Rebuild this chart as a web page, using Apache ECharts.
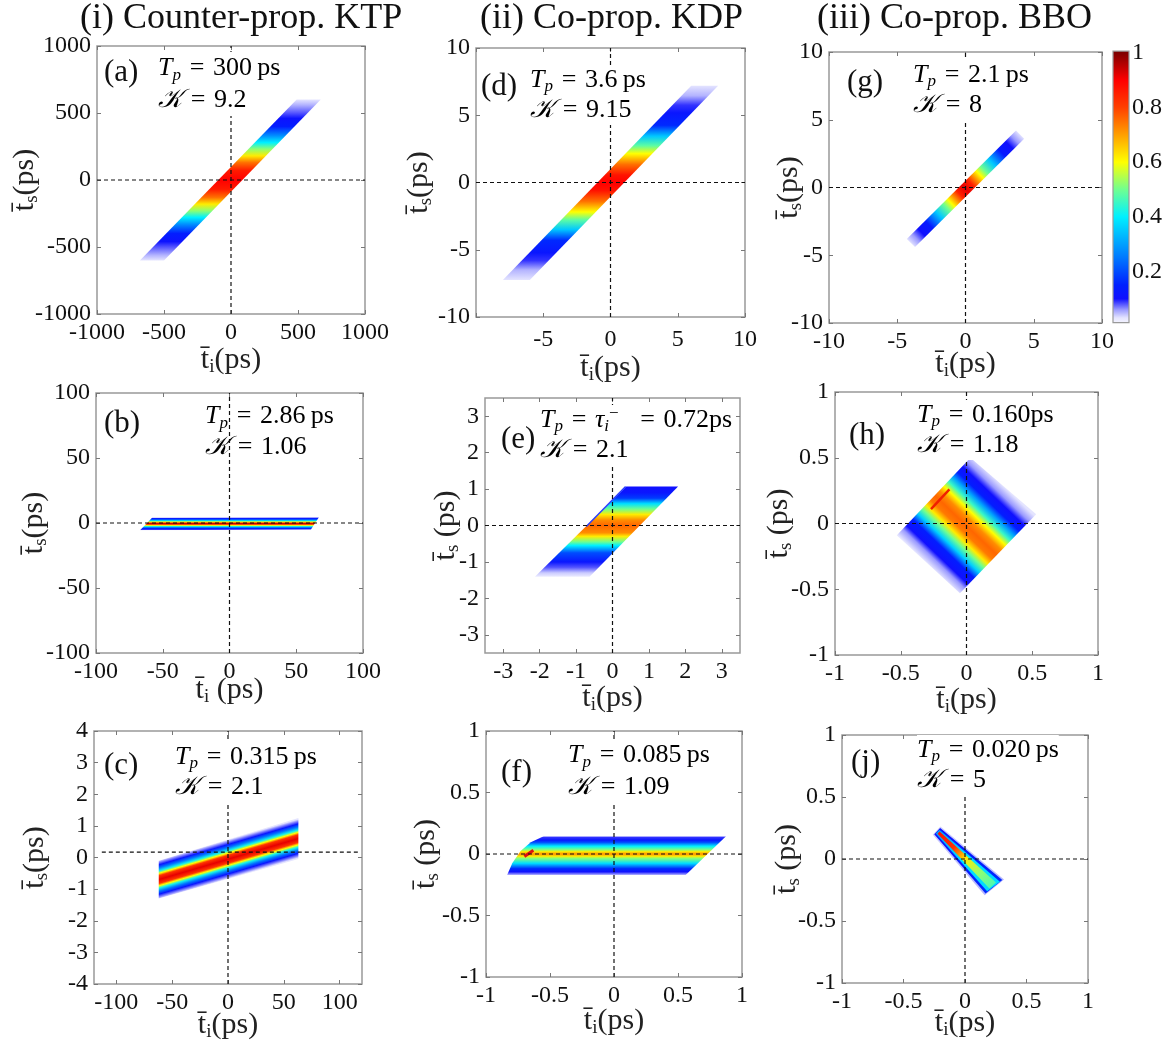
<!DOCTYPE html>
<html>
<head>
<meta charset="utf-8">
<script src="https://cdn.jsdelivr.net/npm/echarts@6/dist/echarts.min.js"></script>
<style>html,body{margin:0;background:#fff}#chart{width:1171px;height:1040px}</style>
</head>
<body>
<div id="chart"></div>
<script>
// colour bar: value -> colour (jet with white foot)
const cbStops = [[0,'#ffffff'],[0.03,'#e4e4ff'],[0.06,'#9a9aff'],[0.1,'#1010ff'],[0.15,'#0020ff'],[0.25,'#0078ff'],[0.4,'#00f0ff'],[0.5,'#70ff90'],[0.6,'#ffff00'],[0.7,'#ffa000'],[0.8,'#ff4000'],[0.9,'#ff0000'],[1,'#800000']];
const cbTicks = [0.2, 0.4, 0.6, 0.8, 1];

// tick values
const aTicks = [-1000, -500, 0, 500, 1000];
const bTicks = [-100, -50, 0, 50, 100];
const cXTicks = [-100, -50, 0, 50, 100];
const cYTicks = [-4, -3, -2, -1, 0, 1, 2, 3, 4];
const dTicks = [-10, -5, 0, 5, 10];
const dXLabels = [-5, 0, 5, 10];
const eTicks = [-3, -2, -1, 0, 1, 2, 3];
const gTicks = [-10, -5, 0, 5, 10];
const unitTicks = [-1, -0.5, 0, 0.5, 1];

// band outlines (t_i, t_s), gradient ends and intensity profiles [fraction, |amplitude|]
const aBand = [[-680, -600], [-500, -600], [670, 600], [490, 600]];
const aGrad = [[0, -600], [0, 600]];
const aProfile = [[0,0.03],[0.033,0.05],[0.083,0.08],[0.117,0.11],[0.167,0.14],[0.225,0.28],[0.267,0.4],[0.308,0.52],[0.35,0.62],[0.392,0.75],[0.442,0.86],[0.5,0.9],[0.558,0.86],[0.608,0.75],[0.65,0.62],[0.692,0.52],[0.733,0.4],[0.775,0.28],[0.833,0.14],[0.883,0.11],[0.917,0.08],[0.967,0.05],[1,0.03]];

const bBand = [[-67, -5.5], [61, -5], [67, 4.5], [-58, 4]];
const bGrad = [[0, -5.5], [0, 4.5]];
const bProfile = [[0,0.03],[0.06,0.1],[0.15,0.16],[0.27,0.38],[0.37,0.6],[0.45,0.85],[0.5,0.95],[0.55,0.85],[0.63,0.6],[0.73,0.38],[0.85,0.16],[0.94,0.1],[1,0.03]];

const cBand = [[-62, -1.3], [63, -0.05], [63, 1.25], [-62, -0.1]];
const cGrad = [[4.7, -0.62], [-4.7, 0.51]];
const cProfile = [[0,0.03],[0.06,0.07],[0.12,0.12],[0.2,0.25],[0.28,0.42],[0.34,0.6],[0.4,0.82],[0.5,0.92],[0.6,0.82],[0.66,0.6],[0.72,0.42],[0.8,0.25],[0.88,0.12],[0.94,0.07],[1,0.03]];
const cHLine = [[-113, 0.17], [117, 0.17]];

const dBand = [[-8, -7.25], [-6, -7.25], [8, 7.2], [6, 7.2]];
const dGrad = [[0, -7.25], [0, 7.2]];
const dProfile = [[0,0.03],[0.052,0.05],[0.1,0.09],[0.14,0.12],[0.204,0.16],[0.26,0.35],[0.308,0.48],[0.35,0.6],[0.405,0.75],[0.46,0.87],[0.5,0.9],[0.54,0.87],[0.595,0.75],[0.65,0.6],[0.692,0.48],[0.74,0.35],[0.796,0.16],[0.86,0.12],[0.9,0.09],[0.948,0.05],[1,0.03]];

const eBand = [[-2.13, -1.41], [-0.63, -1.41], [1.8, 1.07], [0.38, 1.07]];
const eGrad = [[0, -1.41], [0, 1.07]];
const eProfile = [[0,0.02],[0.044,0.04],[0.105,0.08],[0.165,0.12],[0.266,0.2],[0.347,0.4],[0.387,0.5],[0.448,0.62],[0.488,0.72],[0.569,0.76],[0.629,0.72],[0.69,0.62],[0.75,0.5],[0.81,0.38],[0.871,0.18],[0.931,0.12],[1,0.1]];
const eEdge = [[-0.72, -0.03], [0.36, 1.07]];

const fBand = [[-0.835, -0.17], [0.56, -0.17], [0.875, 0.145], [-0.55, 0.145], [-0.65, 0.095], [-0.73, 0.025], [-0.795, -0.075]];
const fGrad = [[0, -0.17], [0, 0.145]];
const fProfile = [[0,0.05],[0.08,0.1],[0.16,0.16],[0.3,0.38],[0.43,0.52],[0.48,0.62],[0.54,0.72],[0.6,0.62],[0.66,0.5],[0.74,0.4],[0.84,0.2],[0.9,0.12],[0.97,0.09],[1,0.05]];
const fRidge = [[-0.7, -0.02], [-0.63, 0.03]];

const gBand = [[-4.3, -3.8], [-3.7, -4.4], [4.3, 3.6], [3.7, 4.2]];
const gGrad = [[-4.05, -4.1], [4.05, 3.9]];
const gProfile = [[0,0.03],[0.05,0.06],[0.1,0.1],[0.17,0.13],[0.26,0.35],[0.33,0.5],[0.37,0.6],[0.41,0.72],[0.45,0.85],[0.5,0.92],[0.55,0.85],[0.59,0.72],[0.63,0.6],[0.67,0.5],[0.74,0.35],[0.83,0.13],[0.9,0.1],[0.95,0.06],[1,0.03]];

const hBand = [[-0.53, -0.09], [-0.05, -0.53], [0.53, 0.07], [0.03, 0.5]];
const hGrad = [[-0.29, -0.31], [0.28, 0.285]];
const hProfile = [[0,0.03],[0.07,0.06],[0.12,0.1],[0.2,0.14],[0.27,0.36],[0.33,0.5],[0.38,0.62],[0.44,0.74],[0.5,0.76],[0.56,0.72],[0.62,0.6],[0.68,0.45],[0.74,0.3],[0.8,0.14],[0.87,0.1],[0.93,0.06],[1,0.03]];
const hRidge = [[-0.27, 0.11], [-0.13, 0.26]];

const jGrad = [[-0.23, 0.23], [0.24, -0.23]];
const jFringe = [[-0.262, 0.196], [0.16, -0.292], [0.317, -0.165], [-0.2, 0.262]];
const jFringeProfile = [[0,0.04],[1,0.05]];
const jOuter = [[-0.25, 0.199], [0.167, -0.278], [0.303, -0.17], [-0.202, 0.249]];
const jOuterProfile = [[0,0.11],[0.5,0.13],[1,0.16]];
const jMid = [[-0.238, 0.206], [0.18, -0.26], [0.284, -0.184], [-0.208, 0.236]];
const jMidProfile = [[0,0.3],[0.5,0.38],[1,0.37]];
const jCore = [[-0.223, 0.204], [0.198, -0.238], [0.252, -0.19], [-0.207, 0.222]];
const jCoreProfile = [[0,0.88],[0.3,0.82],[0.5,0.62],[0.75,0.52],[1,0.46]];

const serif = 'Liberation Serif, serif';
const EQ = '\u2004=\u2004';

function hex2rgb(h) { return [1, 3, 5].map(i => parseInt(h.substr(i, 2), 16)) }
function cmap(v) {
  for (let i = 1; i < cbStops.length; i++) {
    if (v <= cbStops[i][0]) {
      const a = hex2rgb(cbStops[i - 1][1]), b = hex2rgb(cbStops[i][1])
      const t = (v - cbStops[i - 1][0]) / (cbStops[i][0] - cbStops[i - 1][0])
      return 'rgb(' + a.map((c, k) => Math.round(c + (b[k] - c) * t)).join(',') + ')'
    }
  }
  return cbStops[cbStops.length - 1][1]
}

const tiName = '{t|t̄}{s|i}{t|(ps)}'
const tiNameSp = '{t|t̄}{s|i}{t| (ps)}'
const tsName = '{t|t̄}{s|s}{t|(ps)}'
const tsNameSp = '{t|t̄}{s|s}{t| (ps)}'

const panels = [
  { box: [97, 46, 268, 268], xr: [-1000, 1000], yr: [-1000, 1000], xt: aTicks, yt: aTicks, xl: aTicks, yl: aTicks, xn: tiName, yn: tsName, xg: 29, yg: 55,
    shapes: [[aBand, aGrad, aProfile]], extra: [],
    lab: '(a)', lx: 104, ly: 75, tx: 158, ty: 52, lh: 32, tp: '300\u2009ps', kv: '9.2', bg: true },
  { box: [96, 393, 267, 260], xr: [-100, 100], yr: [-100, 100], xt: bTicks, yt: bTicks, xl: bTicks, yl: bTicks, xn: tiNameSp, yn: tsName, xg: 20, yg: 45,
    shapes: [[bBand, bGrad, bProfile]], extra: [],
    lab: '(b)', lx: 104, ly: 426, tx: 205, ty: 401, lh: 31, tp: '2.86\u2009ps', kv: '1.06', bg: false },
  { box: [94, 731, 268, 253], xr: [-120, 120], yr: [-4, 4], xt: cXTicks, yt: cYTicks, xl: cXTicks, yl: cYTicks, xn: tiName, yn: tsName, xg: 24, yg: 42,
    shapes: [[cBand, cGrad, cProfile]], extra: [], hline: cHLine,
    lab: '(c)', lx: 104, ly: 768, tx: 175, ty: 742, lh: 30, tp: '0.315\u2009ps', kv: '2.1', bg: true },
  { box: [476, 48, 269, 269], xr: [-10, 10], yr: [-10, 10], xt: dTicks, yt: dTicks, xl: dXLabels, yl: dTicks, xn: tiName, yn: tsName, xg: 34, yg: 40, xm: 11,
    shapes: [[dBand, dGrad, dProfile]], extra: [],
    lab: '(d)', lx: 481, ly: 89, tx: 530, ty: 65, lh: 30, tp: '3.6\u2009ps', kv: '9.15', bg: true },
  { box: [485, 398, 255, 255], xr: [-3.5, 3.5], yr: [-3.5, 3.5], xt: eTicks, yt: eTicks, xl: eTicks, yl: eTicks, xn: tiName, yn: tsNameSp, xg: 28, yg: 22,
    shapes: [[eBand, eGrad, eProfile]], extra: [[eEdge, '#2a3cff', 1.5]],
    lab: '(e)', lx: 501, ly: 442, tx: 540, ty: 405, lh: 30,
    tpRich: '{it|T}{sub|p}{n|' + EQ + '}{it|τ}{sub|i}{sup|−}{n|\u2002' + EQ + '0.72ps}', kv: '2.1', bg: true },
  { box: [486, 731, 256, 246], xr: [-1, 1], yr: [-1, 1], xt: unitTicks, yt: unitTicks, xl: unitTicks, yl: unitTicks, xn: tiName, yn: tsNameSp, xg: 27, yg: 43,
    shapes: [[fBand, fGrad, fProfile]], extra: [[fRidge, '#e01010', 3]],
    lab: '(f)', lx: 501, ly: 775, tx: 568, ty: 739, lh: 32, tp: '0.085\u2009ps', kv: '1.09', bg: true },
  { box: [829, 52, 273, 271], xr: [-10, 10], yr: [-10, 10], xt: gTicks, yt: gTicks, xl: gTicks, yl: gTicks, xn: tiName, yn: tsName, xg: 24, yg: 23,
    shapes: [[gBand, gGrad, gProfile]], extra: [],
    lab: '(g)', lx: 847, ly: 85, tx: 913, ty: 60, lh: 30, tp: '2.1\u2009ps', kv: '8', bg: true },
  { box: [835, 392, 263, 263], xr: [-1, 1], yr: [-1, 1], xt: unitTicks, yt: unitTicks, xl: unitTicks, yl: unitTicks, xn: tiName, yn: tsNameSp, xg: 28, yg: 39,
    shapes: [[hBand, hGrad, hProfile]], extra: [[hRidge, '#f02000', 2.5]],
    lab: '(h)', lx: 849, ly: 438, tx: 917, ty: 400, lh: 30, tp: '0.160ps', kv: '1.18', bg: true },
  { box: [842, 735, 246, 248], xr: [-1, 1], yr: [-1, 1], xt: unitTicks, yt: unitTicks, xl: unitTicks, yl: unitTicks, xn: tiName, yn: tsNameSp, xg: 23, yg: 38,
    shapes: [[jFringe, jGrad, jFringeProfile], [jOuter, jGrad, jOuterProfile], [jMid, jGrad, jMidProfile], [jCore, jGrad, jCoreProfile]], extra: [],
    lab: '(j)', lx: 851, ly: 765, tx: 917, ty: 735, lh: 30, tp: '0.020\u2009ps', kv: '5', bg: true }
]

const nameRich = {
  t: { fontFamily: serif, fontSize: 30, color: '#222', lineHeight: 34 },
  s: { fontFamily: serif, fontSize: 19, color: '#222', lineHeight: 21, verticalAlign: 'bottom' }
}
function annRich (lh) {
  return {
    n: { fontFamily: serif, fontSize: 26, color: '#222', lineHeight: lh },
    it: { fontFamily: serif, fontStyle: 'italic', fontSize: 26, color: '#222', lineHeight: lh },
    sub: { fontFamily: serif, fontStyle: 'italic', fontSize: 17, color: '#222', lineHeight: 19, verticalAlign: 'bottom' },
    sup: { fontFamily: serif, fontSize: 17, color: '#222', lineHeight: 19, verticalAlign: 'top' },
    k: { fontFamily: serif, fontStyle: 'italic', fontSize: 26, color: '#222', lineHeight: lh }
  }
}

const tickStyle = { inside: true, length: 4, lineStyle: { color: '#777', width: 1 } }
const labelStyle = { fontFamily: serif, fontSize: 24, color: '#111', formatter: v => String(v) }
const hideLine = { show: false, onZero: false }

const grid = [], xAxis = [], yAxis = [], series = [], graphic = []

panels.forEach((p, i) => {
  grid.push({ left: p.box[0], top: p.box[1], width: p.box[2], height: p.box[3], show: true, borderColor: '#999', borderWidth: 1.5, backgroundColor: '#fff', outerBoundsMode: 'none' })
  xAxis.push({ gridIndex: i, type: 'value', min: p.xr[0], max: p.xr[1], position: 'bottom',
    axisLine: hideLine, splitLine: { show: false },
    axisTick: Object.assign({ customValues: p.xt }, tickStyle),
    axisLabel: Object.assign({ customValues: p.xl, margin: p.xm || 7 }, labelStyle),
    name: p.xn, nameLocation: 'middle', nameGap: p.xg, nameMoveOverlap: false, nameTextStyle: { rich: nameRich } })
  xAxis.push({ gridIndex: i, type: 'value', min: p.xr[0], max: p.xr[1], position: 'top',
    axisLine: hideLine, splitLine: { show: false }, axisLabel: { show: false },
    axisTick: Object.assign({ customValues: p.xt }, tickStyle) })
  yAxis.push({ gridIndex: i, type: 'value', min: p.yr[0], max: p.yr[1], position: 'left',
    axisLine: hideLine, splitLine: { show: false },
    axisTick: Object.assign({ customValues: p.yt }, tickStyle),
    axisLabel: Object.assign({ customValues: p.yl, margin: 6 }, labelStyle),
    name: p.yn, nameLocation: 'middle', nameGap: p.yg, nameMoveOverlap: false, nameTextStyle: { rich: nameRich } })
  yAxis.push({ gridIndex: i, type: 'value', min: p.yr[0], max: p.yr[1], position: 'right',
    axisLine: hideLine, splitLine: { show: false }, axisLabel: { show: false },
    axisTick: Object.assign({ customValues: p.yt }, tickStyle) })

  const xi = 2 * i
  series.push({
    type: 'custom', xAxisIndex: xi, yAxisIndex: xi, clip: true, silent: true, z: 2,
    data: p.shapes.map((s, k) => [0, 0, k]),
    renderItem (params, api) {
      const s = p.shapes[api.value(2)]
      const pts = s[0].map(q => api.coord(q))
      const g0 = api.coord(s[1][0]), g1 = api.coord(s[1][1])
      const stops = s[2].map(d => ({ offset: d[0], color: cmap(d[1]) }))
      return { type: 'polygon', shape: { points: pts },
        style: { fill: new echarts.graphic.LinearGradient(g0[0], g0[1], g1[0], g1[1], stops, true) } }
    }
  })
  p.extra.forEach(e => series.push({ type: 'line', xAxisIndex: xi, yAxisIndex: xi, data: e[0], symbol: 'none', silent: true, z: 3,
    lineStyle: { color: e[1], width: e[2] } }))
  const h = p.hline || [[p.xr[0], 0], [p.xr[1], 0]]
  const v = [[0, p.yr[0]], [0, p.yr[1]]]
  ;[h, v].forEach(d => series.push({ type: 'line', xAxisIndex: xi, yAxisIndex: xi, data: d, symbol: 'none', silent: true, z: 4,
    lineStyle: { color: '#111', width: 1.2, type: [4, 3] } }))

  const first = p.tpRich || ('{it|T}{sub|p}{n|' + EQ + p.tp + '}')
  graphic.push({ type: 'text', left: p.tx, top: p.ty, z: 50,
    style: { text: first + '\n{k|𝒦}{n|' + EQ + p.kv + '}', rich: annRich(p.lh), backgroundColor: p.bg ? '#fff' : 'transparent' } })
  graphic.push({ type: 'text', left: p.lx, top: p.ly - 18, z: 50,
    style: { text: p.lab, fontFamily: serif, fontSize: 31, fill: '#111' } })
})

// colour bar
const cb = panels.length
grid.push({ left: 1113, top: 53, width: 16, height: 273, show: false, outerBoundsMode: 'none' })
xAxis.push({ gridIndex: cb, type: 'value', min: 0, max: 1, show: false })
yAxis.push({ gridIndex: cb, type: 'value', min: 0, max: 1, position: 'right',
  axisLine: hideLine, splitLine: { show: false },
  axisTick: { inside: true, length: 3, customValues: cbTicks, lineStyle: { color: '#555' } },
  axisLabel: Object.assign({ customValues: cbTicks, margin: 3 }, labelStyle) })
series.push({
  type: 'custom', xAxisIndex: 2 * cb, yAxisIndex: 2 * cb, silent: true, z: 2,
  data: [[0.5, 0.5]],
  renderItem (params, api) {
    const lo = api.coord([0, 0.012]), hi = api.coord([1, 1.007])
    const g0 = api.coord([0, 0]), g1 = api.coord([0, 1])
    const stops = cbStops.map(s => ({ offset: s[0], color: s[1] }))
    return { type: 'rect', shape: { x: lo[0], y: hi[1], width: hi[0] - lo[0], height: lo[1] - hi[1] },
      style: { fill: new echarts.graphic.LinearGradient(g0[0], g0[1], g1[0], g1[1], stops, true), stroke: '#999', lineWidth: 1.2 } }
  }
})

// column titles
const titles = [['(i) Counter-prop. KTP', 80], ['(ii) Co-prop. KDP', 480], ['(iii) Co-prop. BBO', 817]]
titles.forEach(t => graphic.push({ type: 'text', left: t[1], top: 1, z: 50,
  style: { text: t[0], fontFamily: serif, fontSize: 36, fill: '#111' } }))

const chart = echarts.init(document.getElementById('chart'))
chart.setOption({ animation: false, backgroundColor: '#fff', grid, xAxis, yAxis, series, graphic })
</script>
</body>
</html>
